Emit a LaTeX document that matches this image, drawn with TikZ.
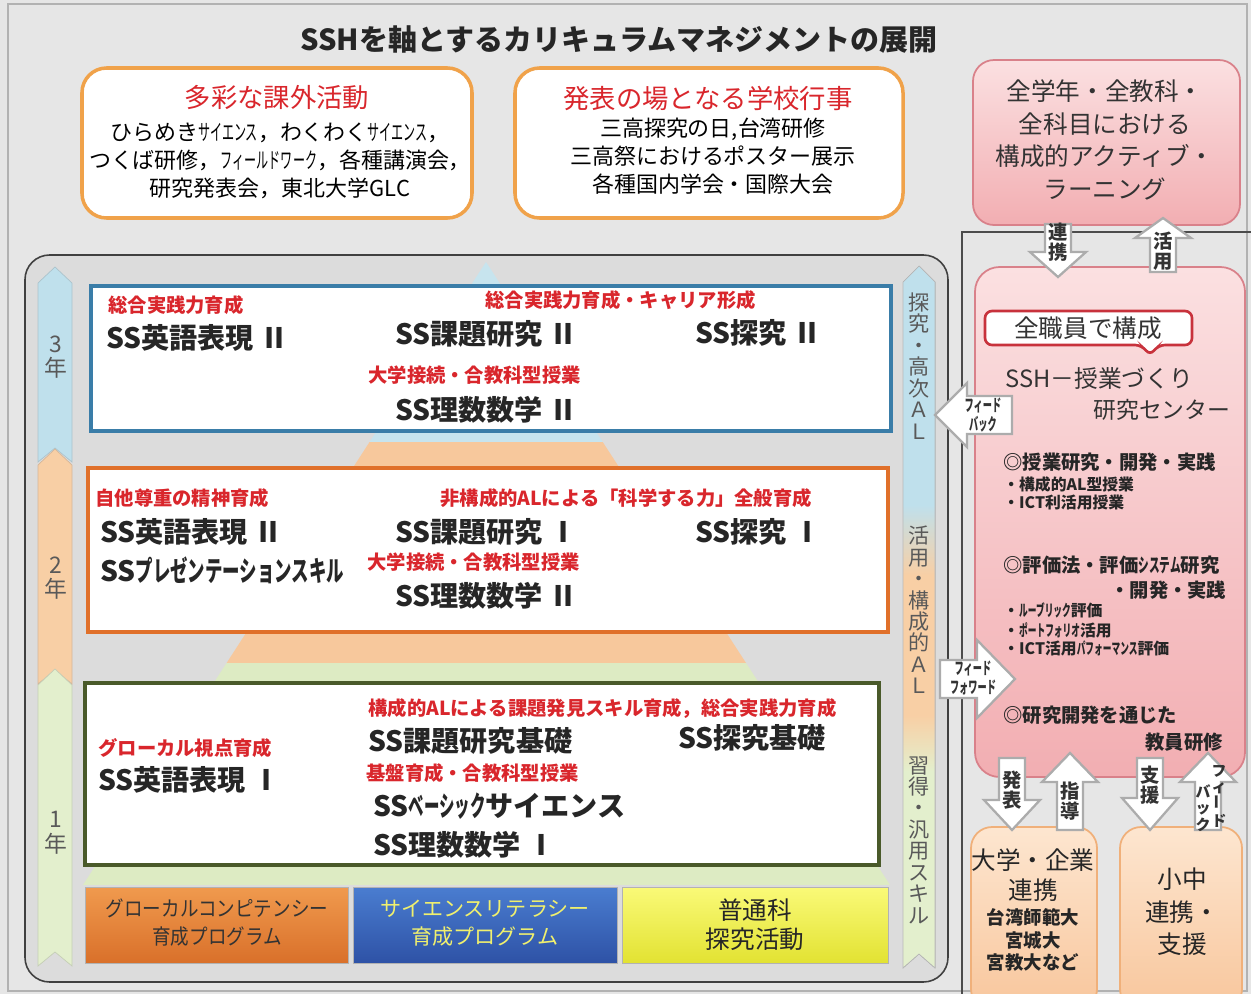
\documentclass[tikz,border=0pt]{standalone}
\usepackage{fontspec}
\usepackage{graphicx}
\setmainfont{Noto Sans CJK JP}
\usetikzlibrary{shapes, backgrounds}

\definecolor{bgcol}{HTML}{E6E6E6}
\definecolor{panelcol}{HTML}{DCDCDC}
\definecolor{aimred}{HTML}{D9262C}
\definecolor{boxorange}{HTML}{F0A24A}
\definecolor{yrblue}{HTML}{3A7DA8}
\definecolor{yrorange}{HTML}{E0702A}
\definecolor{yrgreen}{HTML}{4A5A2A}
\definecolor{pyrblue}{HTML}{C7E4EE}
\definecolor{pyrorange}{HTML}{F7C89C}
\definecolor{pyrgreen}{HTML}{DDEBC3}
\definecolor{ribblue}{HTML}{BFE0EC}
\definecolor{riborange}{HTML}{F8CFA5}
\definecolor{ribgreen}{HTML}{E3EFCD}
\definecolor{pinklight}{HTML}{FBE0E1}
\definecolor{pinkdeep}{HTML}{F2AEB2}
\definecolor{pinkedge}{HTML}{D9818A}
\definecolor{peachlight}{HTML}{FDE6D0}
\definecolor{peachdeep}{HTML}{F8C69C}
\definecolor{peachedge}{HTML}{F0B07A}
\definecolor{calloutred}{HTML}{C8323C}
\definecolor{progorangetop}{HTML}{F09A4E}
\definecolor{progorangebot}{HTML}{D9702A}
\definecolor{progbluetop}{HTML}{4A7DD0}
\definecolor{progbluebot}{HTML}{2E52A6}
\definecolor{progyellowtop}{HTML}{FAFA78}
\definecolor{progyellowbot}{HTML}{E2E232}
\definecolor{progtext}{HTML}{F0F06E}

\pgfdeclareverticalshading{alband}{100bp}{color(0bp)=(ribgreen); color(39bp)=(ribgreen); color(43bp)=(riborange); color(53bp)=(riborange); color(58bp)=(ribblue); color(100bp)=(ribblue)}

% block arrows: centre, start, shoulder, tip (head half width for the horizontal ones)
\newcommand{\vblockarr}[4]{\filldraw[blockarr] (#1-13,#2) -- (#1+13,#2) -- (#1+13,#3) -- (#1+28,#3) -- (#1,#4) -- (#1-28,#3) -- (#1-13,#3) -- cycle;}
\newcommand{\hblockarr}[5]{\filldraw[blockarr] (#2,#1-19) -- (#3,#1-19) -- (#3,#1-#5) -- (#4,#1) -- (#3,#1+#5) -- (#3,#1+19) -- (#2,#1+19) -- cycle;}
\newcommand{\yrribbon}[5]{\filldraw[#5] (#1,#3+16) -- ({(#1+#2)/2},#3) -- (#2,#3+16) -- (#2,#4) -- ({(#1+#2)/2},#4-14) -- (#1,#4) -- cycle;}
\newcommand{\halfkana}[2][0.55]{\scalebox{#1}[1]{#2}}

\begin{document}
\begin{tikzpicture}[x=0.02cm, y=-0.02cm,
  subj/.style={anchor=west, inner sep=0pt, font=\bfseries\fontsize{16}{18}\selectfont, text=black!85},
  aim/.style={anchor=west, inner sep=0pt, font=\bfseries\fontsize{11}{13}\selectfont, text=aimred},
  ribtext/.style={align=center, inner sep=0pt, text=black!65, font=\fontsize{12}{12.2}\selectfont},
  arrtext/.style={align=center, inner sep=0pt, text=black!80, font=\bfseries\fontsize{11}{11.5}\selectfont},
  note/.style={anchor=west, inner sep=0pt, text=black!85, font=\bfseries\fontsize{9}{10}\selectfont},
  point/.style={anchor=west, inner sep=0pt, text=black!85, font=\bfseries\fontsize{11}{13}\selectfont},
  blockarr/.style={draw=gray!65, line width=1.3pt, fill=white}]
	\useasboundingbox (0,0) rectangle (1251,994);
	\fill[bgcol] (0,0) rectangle (1251,994);
	\draw[gray!60, line width=0.6pt] (8,4) rectangle (1247,991);

	\node (title) at (619,40) [font=\bfseries\fontsize{16.5}{18}\selectfont, text=black!85] {SSHを軸とするカリキュラムマネジメントの展開};

	% top boxes
	\filldraw[fill=white, draw=boxorange, line width=2pt, rounded corners=14pt] (82,68) rectangle (472,218);
	\filldraw[fill=white, draw=boxorange, line width=2pt, rounded corners=14pt] (515,68) rectangle (903,218);
	\node (extra) at (277,98) [text=aimred, font=\fontsize{15}{17}\selectfont] {多彩な課外活動};
	\node (extrabody) at (280,161) [align=center, font=\fontsize{12.5}{15.9}\selectfont] {ひらめき\halfkana{サイエンス}，わくわく\halfkana{サイエンス}，\\つくば研修，\halfkana{フィールドワーク}，各種講演会，\\研究発表会，東北大学GLC};
	\node (events) at (708,98) [text=aimred, font=\fontsize{15}{17}\selectfont] {発表の場となる学校行事};
	\node (eventsbody) at (713,156) [align=center, font=\fontsize{12.5}{15.9}\selectfont] {三高探究の日,台湾研修\\三高祭におけるポスター展示\\各種国内学会・国際大会};

	% right column
	\draw[black!70, line width=0.8pt] (1251,232) -- (962,232) -- (962,994);
	\shade[top color=pinklight, bottom color=pinkdeep, draw=pinkedge, line width=1pt, rounded corners=12pt] (973,60) rectangle (1240,225);
	\node (allal) at (1105,140) [align=center, text=black!80, font=\fontsize{14}{18.7}\selectfont] {全学年・全教科・\\全科目における\\構成的アクティブ・\\ラーニング};

	\shade[top color=pinklight, bottom color=pinkdeep, draw=pinkedge, line width=1pt, rounded corners=14pt] (975,267) rectangle (1245,777);
	\vblockarr{1058}{224}{252}{277}
	\vblockarr{1163}{272}{238}{218}
	\node (renkei) at (1058,242) [arrtext] {連\\携};
	\node (katsuyo) at (1163,251) [arrtext] {活\\用};

	\filldraw[fill=white, draw=calloutred, line width=1.5pt, rounded corners=4pt] (985,311) -- (1192,311) -- (1192,345) -- (1158,345) -- (1150,356) -- (1142,345) -- (985,345) -- cycle;
	\node (staff) at (1088,328) [text=black!80, font=\fontsize{14}{16}\selectfont] {全職員で構成};
	\node (center1) at (1005,378) [anchor=west, inner sep=0pt, text=black!80, font=\fontsize{13.5}{16}\selectfont] {SSH－授業づくり};
	\node (center2) at (1093,410) [anchor=west, inner sep=0pt, text=black!80, font=\fontsize{13}{16}\selectfont] {研究センター};
	\node (lesson) at (1003,462) [point] {◎授業研究・開発・実践};
	\node (lesson1) at (1003,484) [note] {・構成的AL型授業};
	\node (lesson2) at (1003,503) [note] {・ICT利活用授業};
	\node (evalu) at (1003,565) [point] {◎評価法・評価\halfkana{システム}研究};
	\node (evalu0) at (1110,590) [point] {・開発・実践};
	\node (evalu1) at (1003,610) [note] {・\halfkana{ルーブリック}評価};
	\node (evalu2) at (1003,630) [note] {・\halfkana{ポートフォリオ}活用};
	\node (evalu3) at (1003,649) [note] {・ICT活用\halfkana{パフォーマンス}評価};
	\node (train) at (1003,715) [point] {◎研究開発を通じた};
	\node (train0) at (1145,742) [point] {教員研修};

	\shade[top color=peachlight, bottom color=peachdeep, draw=peachedge, line width=1pt, rounded corners=12pt] (971,827) rectangle (1097,1010);
	\shade[top color=peachlight, bottom color=peachdeep, draw=peachedge, line width=1pt, rounded corners=12pt] (1120,827) rectangle (1242,1010);
	\node (univ) at (1033,875) [align=center, text=black!85, font=\fontsize{14}{17}\selectfont] {大学・企業\\連携};
	\node (univlist) at (1033,940) [align=center, text=black!85, font=\bfseries\fontsize{10.5}{12.6}\selectfont] {台湾師範大\\宮城大\\宮教大など};
	\node (school) at (1182,912) [align=center, text=black!85, font=\fontsize{14}{18.5}\selectfont] {小中\\連携・\\支援};

	\vblockarr{1012}{758}{800}{830}
	\vblockarr{1070}{830}{782}{753}
	\vblockarr{1150}{758}{798}{830}
	\vblockarr{1208}{830}{782}{753}
	\node (happyo) at (1012,790) [arrtext] {発\\表};
	\node (shido) at (1070,801) [arrtext] {指\\導};
	\node (shien) at (1150,785) [arrtext] {支\\援};
	\node (fbright) at (1219,796) [arrtext, font=\bfseries\fontsize{8.5}{9.5}\selectfont] {フ\\ィ\\\rotatebox{90}{ー}\\ド};
	\node (fbleft) at (1203,808) [arrtext, font=\bfseries\fontsize{8.5}{9.5}\selectfont] {バ\\ッ\\ク};

	% main panel
	\filldraw[draw=black!75, line width=0.9pt, fill=panelcol, rounded corners=14pt] (25,255) rectangle (948,982);
	\yrribbon{38}{72}{267}{462}{fill=ribblue, draw=ribblue!70!gray}
	\yrribbon{38}{72}{449}{684}{fill=riborange, draw=riborange!70!gray}
	\yrribbon{38}{72}{669}{966}{fill=ribgreen, draw=ribgreen!70!gray}
	\yrribbon{903}{935}{266}{968}{shade, shading=alband, draw=gray!55}
	\node (yr3) at (56,357) [ribtext, font=\fontsize{13}{14}\selectfont] {3\\年};
	\node (yr2) at (56,578) [ribtext, font=\fontsize{13}{14}\selectfont] {2\\年};
	\node (yr1) at (56,833) [ribtext, font=\fontsize{13}{14}\selectfont] {1\\年};
	\node (high) at (919,366) [ribtext] {探\\究\\・\\高\\次\\Ａ\\Ｌ};
	\node (use) at (919,610) [ribtext] {活\\用\\・\\構\\成\\的\\Ａ\\Ｌ};
	\node (skill) at (919,840) [ribtext] {習\\得\\・\\汎\\用\\ス\\キ\\ル};

	% pyramid
	\begin{scope}
		\clip (486,262) -- (83,885) -- (890,885) -- cycle;
		\fill[pyrblue] (80,255) rectangle (895,442);
		\fill[pyrorange] (80,442) rectangle (895,663);
		\fill[pyrgreen] (80,663) rectangle (895,885);
	\end{scope}

	% year boxes
	\filldraw[fill=white, draw=yrblue, line width=1.8pt] (91,286) rectangle (891,431);
	\filldraw[fill=white, draw=yrorange, line width=1.8pt] (88,468) rectangle (888,632);
	\filldraw[fill=white, draw=yrgreen, line width=1.8pt] (85,683) rectangle (879,865);

	\node (aim3a) at (108,305) [aim] {総合実践力育成};
	\node (eng3) at (106,338) [subj] {SS英語表現 Ⅱ};
	\node (aim3b) at (485,300) [aim] {総合実践力育成・キャリア形成};
	\node (kadai3) at (395,334) [subj] {SS課題研究 Ⅱ};
	\node (tan3) at (695,333) [subj] {SS探究 Ⅱ};
	\node (aim3c) at (368,375) [aim] {大学接続・合教科型授業};
	\node (math3) at (395,410) [subj] {SS理数数学 Ⅱ};

	\node (aim2a) at (95,498) [aim] {自他尊重の精神育成};
	\node (eng2) at (100,532) [subj] {SS英語表現 Ⅱ};
	\node (pres2) at (100,570) [subj] {SS\halfkana[0.62]{プレゼンテーションスキル}};
	\node (aim2b) at (440,498) [aim] {非構成的ALによる「科学する力」全般育成};
	\node (kadai2) at (395,532) [subj] {SS課題研究 Ⅰ};
	\node (tan2) at (695,532) [subj] {SS探究 Ⅰ};
	\node (aim2c) at (367,562) [aim] {大学接続・合教科型授業};
	\node (math2) at (395,596) [subj] {SS理数数学 Ⅱ};

	\node (aim1a) at (368,709) [aim] {構成的ALによる課題発見スキル育成，総合実践力育成};
	\node (aim1b) at (98,748) [aim] {グローカル視点育成};
	\node (eng1) at (98,780) [subj] {SS英語表現 Ⅰ};
	\node (kadai1) at (368,741) [subj] {SS課題研究基礎};
	\node (tan1) at (678,738) [subj] {SS探究基礎};
	\node (aim1c) at (366,773) [aim] {基盤育成・合教科型授業};
	\node (basic1) at (373,806) [subj] {SS\halfkana{ベーシック}サイエンス};
	\node (math1) at (373,845) [subj] {SS理数数学 Ⅰ};

	% programmes
	\shade[top color=progorangetop, bottom color=progorangebot, draw=gray!60] (85,887) rectangle (348,963);
	\shade[top color=progbluetop, bottom color=progbluebot, draw=gray!60] (353,887) rectangle (617,963);
	\shade[top color=progyellowtop, bottom color=progyellowbot, draw=gray!60] (622,887) rectangle (888,963);
	\node (glocal) at (217,923) [align=center, text=black!80, font=\fontsize{12}{15.9}\selectfont] {\halfkana[0.88]{グローカルコンピテンシー}\\\halfkana[0.88]{育成プログラム}};
	\node (scilit) at (485,923) [align=center, text=progtext, font=\fontsize{12}{15.9}\selectfont] {サイエンスリテラシー\\育成プログラム};
	\node (general) at (755,925) [align=center, text=black!85, font=\fontsize{14}{16.5}\selectfont] {普通科\\探究活動};

	% feedback arrows
	\hblockarr{415}{1012}{967}{935}{32}
	\hblockarr{679}{940}{977}{1015}{39}
	\node (fback) at (983,415) [arrtext, font=\bfseries\fontsize{9.5}{11}\selectfont] {\halfkana{フィード}\\\halfkana{バック}};
	\node (fforward) at (973,678) [arrtext, font=\bfseries\fontsize{9.5}{11}\selectfont] {\halfkana{フィード}\\\halfkana{フォワード}};
\end{tikzpicture}
\end{document}
